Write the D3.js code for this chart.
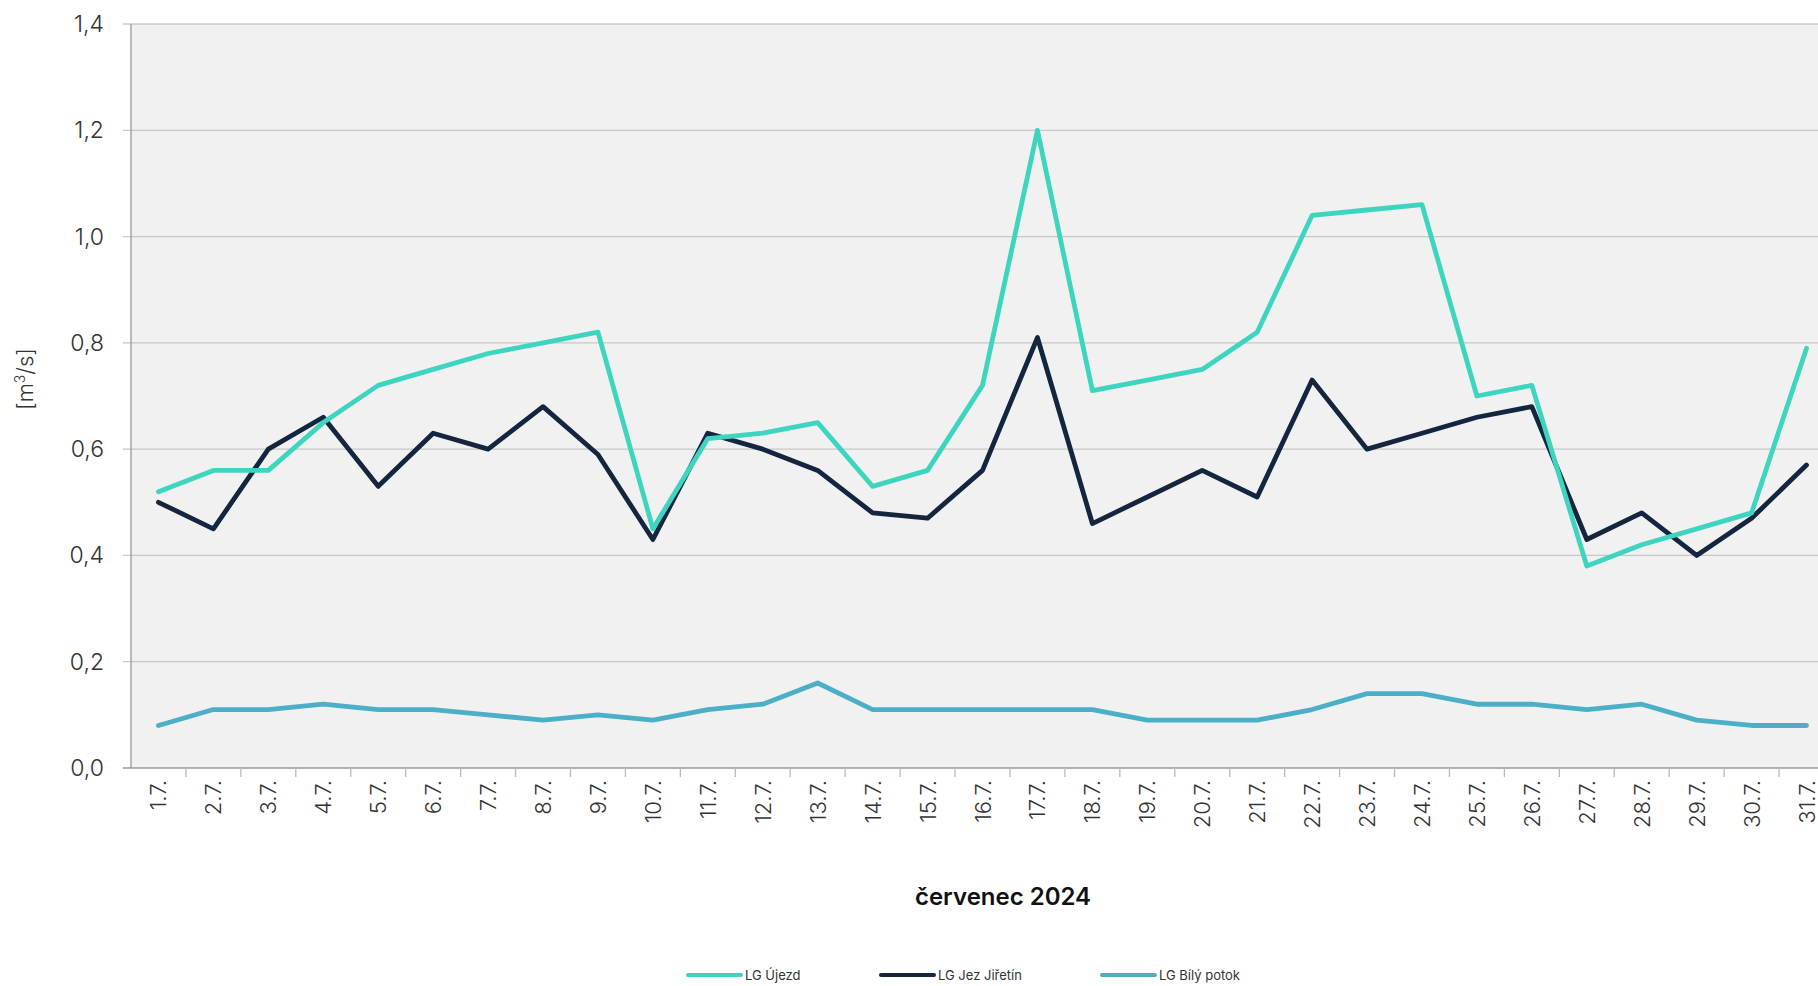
<!DOCTYPE html>
<html><head><meta charset="utf-8">
<script src="https://cdn.jsdelivr.net/npm/d3@7"></script>
<style>body{margin:0;background:#fff;overflow:hidden}text{font-family:Inter,"Noto Sans",sans-serif}</style>
</head><body><svg id="c" width="1818" height="986"></svg>
<script>
const days = d3.range(1, 32).map(d => d + '.7.');
const ujezd = [0.52,0.56,0.56,0.65,0.72,0.75,0.78,0.80,0.82,0.45,0.62,0.63,0.65,0.53,0.56,0.72,1.20,0.71,0.73,0.75,0.82,1.04,1.05,1.06,0.70,0.72,0.38,0.42,0.45,0.48,0.79];
const jez = [0.50,0.45,0.60,0.66,0.53,0.63,0.60,0.68,0.59,0.43,0.63,0.60,0.56,0.48,0.47,0.56,0.81,0.46,0.51,0.56,0.51,0.73,0.60,0.63,0.66,0.68,0.43,0.48,0.40,0.47,0.57];
const bily = [0.08,0.11,0.11,0.12,0.11,0.11,0.10,0.09,0.10,0.09,0.11,0.12,0.16,0.11,0.11,0.11,0.11,0.11,0.09,0.09,0.09,0.11,0.14,0.14,0.12,0.12,0.11,0.12,0.09,0.08,0.08];
const yTicks = [0, 0.2, 0.4, 0.6, 0.8, 1.0, 1.2, 1.4];
const series = [
  {name: 'LG Újezd', values: ujezd, color: '#3dd5bf'},
  {name: 'LG Jez Jiřetín', values: jez, color: '#13253f'},
  {name: 'LG Bílý potok', values: bily, color: '#4bafc8'}
];

let svg = d3.select('#c');
let L = 131, R = 1818, T = 24, B = 768;
// poslední kategorie přesahuje okraj obrázku
let x = d3.scaleBand().domain(days).range([L, 1834]);
let y = d3.scaleLinear().domain([0, 1.4]).range([B, T]);
let fmt = v => d3.format('.1f')(v).replace('.', ',');

svg.append('rect').attr('x', L).attr('y', T).attr('width', R - L).attr('height', B - T).attr('fill', '#f1f1f1');
// mřížka
svg.append('g').selectAll('line').data(yTicks.slice(1)).enter().append('line')
  .attr('x1', L - 8).attr('x2', R).attr('y1', d => y(d)).attr('y2', d => y(d))
  .attr('stroke', '#c8c8c8').attr('stroke-width', 1.3);
svg.append('g').selectAll('text').data(yTicks).enter().append('text')
  .attr('x', 104).attr('y', d => y(d) + 8).attr('text-anchor', 'end')
  .attr('font-size', 23).attr('font-weight', 300).attr('fill', '#333').text(fmt);
// osy
svg.append('line').attr('x1', L).attr('x2', L).attr('y1', T).attr('y2', B).attr('stroke', '#999').attr('stroke-width', 1.3);
svg.append('line').attr('x1', L - 8).attr('x2', R).attr('y1', B).attr('y2', B).attr('stroke', '#999').attr('stroke-width', 1.3);
svg.append('g').selectAll('line').data(days).enter().append('line')
  .attr('x1', d => x(d) + x.bandwidth()).attr('x2', d => x(d) + x.bandwidth())
  .attr('y1', B).attr('y2', B + 9).attr('stroke', '#bbb').attr('stroke-width', 1.3);
svg.append('g').selectAll('text').data(days).enter().append('text')
  .attr('transform', d => 'translate(' + (x(d) + x.bandwidth() / 2 + 8) + ',' + (B + 12) + ') rotate(-90)')
  .attr('text-anchor', 'end').attr('font-size', 22).attr('font-weight', 300).attr('fill', '#333').text(d => d);

// čáry
let line = d3.line().x((d, i) => x(days[i]) + x.bandwidth() / 2).y(d => y(d));
series.slice().reverse().forEach(s => {
  svg.append('path').attr('d', line(s.values)).attr('fill', 'none')
    .attr('stroke', s.color).attr('stroke-width', 4.8).attr('stroke-linejoin', 'round').attr('stroke-linecap', 'round');
});

svg.append('text').attr('x', 1003).attr('y', 905).attr('text-anchor', 'middle')
  .attr('font-size', 24).attr('font-weight', 600).attr('fill', '#111').text('červenec 2024');
svg.append('text').attr('transform', 'translate(33,379) rotate(-90)').attr('text-anchor', 'middle')
  .attr('font-size', 22).attr('font-weight', 300).attr('fill', '#333')
  .html('[m<tspan baseline-shift="super" font-size="14">3</tspan>/s]');

// legenda
let lx = [688, 881, 1102];
series.forEach((s, i) => {
  svg.append('line').attr('x1', lx[i]).attr('x2', lx[i] + 53).attr('y1', 975).attr('y2', 975)
    .attr('stroke', s.color).attr('stroke-width', 4).attr('stroke-linecap', 'round');
  svg.append('text').attr('x', lx[i] + 57).attr('y', 980).attr('font-size', 13).attr('fill', '#333').text(s.name);
});
</script></body></html>
